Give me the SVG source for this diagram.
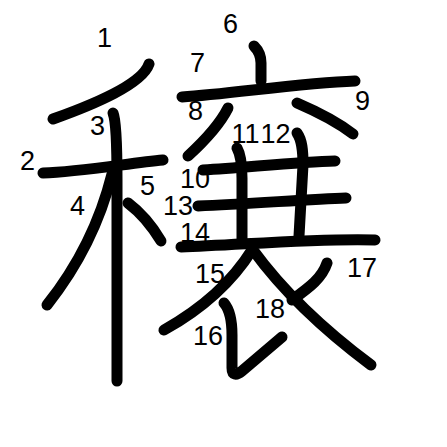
<svg xmlns="http://www.w3.org/2000/svg" width="447" height="447" viewBox="0 0 447 447">
<style>
.s{fill:none;stroke:#000;stroke-width:11;stroke-linecap:round;stroke-linejoin:round}
.n{font-family:"Liberation Sans",Arial,sans-serif;font-size:27px;fill:#000;text-anchor:middle}
</style>
<rect width="447" height="447" fill="#fff"/>
<g id="strokes">
<path id="s1" class="s" d="M149,64 C142,84 95,104 53,119"/>
<path id="s2" class="s" d="M43,173 C80,172 130,163 163,160"/>
<path id="s3" class="s" d="M113,113 C116,120 117,140 117,180 L117,381"/>
<path id="s4" class="s" d="M112,174 C100,222 78,266 47,305"/>
<path id="s5" class="s" d="M128,203 C140,212 152,226 161,241"/>
<path id="s6" class="s" d="M254,46 C258,50 261,56 261,63 L261,81"/>
<path id="s7" class="s" d="M182,97 C230,94 300,83 355,81"/>
<path id="s8" class="s" d="M228,108 C218,128 200,145 188,156"/>
<path id="s9" class="s" d="M297,103 C318,112 340,124 353,134"/>
<path id="s10" class="s" d="M203,170 C250,167 300,162 335,161"/>
<path id="s11" class="s" d="M237,148 C241,155 242,165 242,178 L242,240"/>
<path id="s12" class="s" d="M297,133 C302,140 303,150 303,165 L299,236"/>
<path id="s13" class="s" d="M198,206 C250,204 310,199 346,198"/>
<path id="s14" class="s" d="M181,247 C240,245 320,238 375,240"/>
<path id="s15" class="s" d="M252,250 C230,285 200,310 164,330"/>
<path id="s16" class="s" d="M224,303 C230,310 232,320 232,335 L232,368 C232,375 236,376 242,371 L282,337"/>
<path id="s17" class="s" d="M327,263 C322,278 310,287 292,300"/>
<path id="s18" class="s" d="M253,250 C280,287 320,327 371,365"/>
</g>
<g id="numbers">
<text class="n" x="104.5" y="47">1</text>
<text class="n" x="27.5" y="170">2</text>
<text class="n" x="97.5" y="135">3</text>
<text class="n" x="77.5" y="215">4</text>
<text class="n" x="147.5" y="195">5</text>
<text class="n" x="230.5" y="33">6</text>
<text class="n" x="197.5" y="72">7</text>
<text class="n" x="195.5" y="120">8</text>
<text class="n" x="362.5" y="110">9</text>
<text class="n" x="195" y="188">10</text>
<text class="n" x="245.5" y="143">11</text>
<text class="n" x="275.5" y="143">12</text>
<text class="n" x="178" y="215">13</text>
<text class="n" x="195" y="242">14</text>
<text class="n" x="210" y="283">15</text>
<text class="n" x="208" y="345">16</text>
<text class="n" x="362" y="277">17</text>
<text class="n" x="270" y="318">18</text>
</g>
</svg>
